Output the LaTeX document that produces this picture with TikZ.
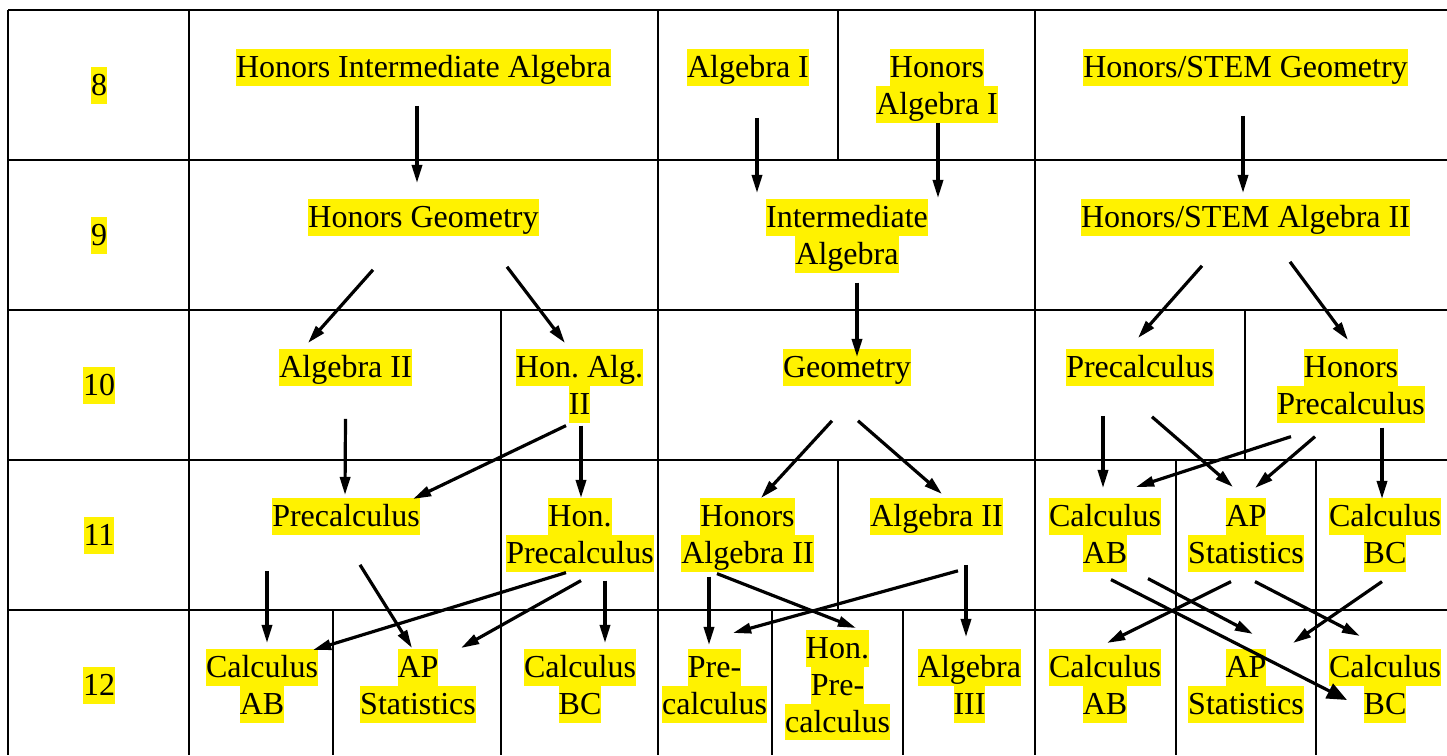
\documentclass[tikz,border=0pt]{standalone}
\usepackage{fontspec}
\setmainfont{Liberation Serif}
\usetikzlibrary{arrows.meta,calc}
\newcommand{\hl}[1]{{\setlength{\fboxsep}{0pt}\colorbox{yellow}{\rule[-3pt]{0pt}{13.8pt}#1}}}
\frenchspacing

\begin{document}
\begin{tikzpicture}[x=0.375pt,y=-0.375pt,
		cell/.style={line width=1.1pt},
		lbl/.style={inner sep=0pt,outer sep=0pt,anchor=north,align=center,font=\fontsize{12}{13.8}\selectfont},
		arr/.style={line width=1.2pt,-{Triangle[length=6.8pt,width=3.8pt]}},
		big/.style={-{Triangle[length=7.5pt,width=6pt]}}]
		\useasboundingbox (0,0) rectangle (1447,755);
		\foreach \y in {10,160,310,460,610} \draw[cell] (8,\y) -- (1447,\y);
		\foreach \x in {8,189,658,1035} \draw[cell] (\x,10) -- (\x,755);
		\draw[cell] (838,10) -- (838,160);
		\draw[cell] (501,310) -- (501,755);
		\draw[cell] (1245,310) -- (1245,460);
		\draw[cell] (838,460) -- (838,610);
		\foreach \x in {1176,1316} \draw[cell] (\x,460) -- (\x,755);
		\foreach \x in {333,772,903} \draw[cell] (\x,610) -- (\x,755);
		\foreach \g [count=\i from 0] in {8,...,12}
			\node[lbl] (g\g) at (99,67+150*\i) {\hl{\g}};
		\node[lbl] (hia) at (423.5,49) {\hl{Honors Intermediate Algebra}};
		\node[lbl] (alg1) at (748,49) {\hl{Algebra I}};
		\node[lbl] (halg1) at (937,49) {\hl{Honors}\\\hl{Algebra I}};
		\node[lbl] (hsgeo) at (1245.5,49) {\hl{Honors/STEM Geometry}};
		\node[lbl] (hgeo) at (423.5,199) {\hl{Honors Geometry}};
		\node[lbl] (ialg) at (847,199) {\hl{Intermediate}\\\hl{Algebra}};
		\node[lbl] (hsalg2) at (1245.5,199) {\hl{Honors/STEM Algebra II}};
		\node[lbl] (alg2a) at (345.5,349) {\hl{Algebra II}};
		\node[lbl] (halg2) at (579.5,349) {\hl{Hon. Alg.}\\\hl{II}};
		\node[lbl] (geo) at (847,349) {\hl{Geometry}};
		\node[lbl] (pcalca) at (1140,349) {\hl{Precalculus}};
		\node[lbl] (hpcalca) at (1351,349) {\hl{Honors}\\\hl{Precalculus}};
		\node[lbl] (pcalcb) at (346,498) {\hl{Precalculus}};
		\node[lbl] (hpcalcb) at (580,498) {\hl{Hon.}\\\hl{Precalculus}};
		\node[lbl] (halg2b) at (747.5,498) {\hl{Honors}\\\hl{Algebra II}};
		\node[lbl] (alg2b) at (936.5,498) {\hl{Algebra II}};
		\node[lbl] (cabb) at (1105,498) {\hl{Calculus}\\\hl{AB}};
		\node[lbl] (apsb) at (1246,498) {\hl{AP}\\\hl{Statistics}};
		\node[lbl] (cbcb) at (1385,498) {\hl{Calculus}\\\hl{BC}};
		\node[lbl] (cabc) at (262,649) {\hl{Calculus}\\\hl{AB}};
		\node[lbl] (apsc) at (418,649) {\hl{AP}\\\hl{Statistics}};
		\node[lbl] (cbcc) at (580,649) {\hl{Calculus}\\\hl{BC}};
		\node[lbl] (prec) at (714.5,649) {\hl{Pre-}\\\hl{calculus}};
		\node[lbl] (hprec) at (837.5,630) {\hl{Hon.}\\\hl{Pre-}\\\hl{calculus}};
		\node[lbl] (alg3) at (969.5,649) {\hl{Algebra}\\\hl{III}};
		\node[lbl] (cabd) at (1105,649) {\hl{Calculus}\\\hl{AB}};
		\node[lbl] (apsd) at (1246,649) {\hl{AP}\\\hl{Statistics}};
		\node[lbl] (cbcd) at (1385,649) {\hl{Calculus}\\\hl{BC}};
		\path[arr]
		($(hia.south)+(-6.5,20)$) edge ($(hgeo.north)+(-6.5,-16)$)
		($(alg1.south)+(9,32)$) edge ($(ialg.north)+(-90,-6)$)
		($(halg1.south)+(1,0)$) edge ($(ialg.north)+(91,-1)$)
		($(hsgeo.south)+(-2.5,30)$) edge ($(hsalg2.north)+(-2.5,-6)$)
		($(hgeo.south)+(-50.5,34)$) edge ($(alg2a.north)+(-37.5,-6)$)
		($(hgeo.south)+(83.5,31)$) edge ($(halg2.north)+(-14.5,-6)$)
		($(ialg.south)+(10,10)$) edge ($(geo.north)+(10,8)$)
		($(hsalg2.south)+(-43.5,30)$) edge ($(pcalca.north)+(-2,-11)$)
		($(hsalg2.south)+(44.5,26)$) edge ($(hpcalca.north)+(-3,-9)$)
		($(alg2a.south)+(0,33)$) edge ($(pcalcb.north)+(-1,-3)$)
		($(halg2.south)+(-13.5,3)$) edge ($(pcalcb.north)+(67,1)$)
		($(halg2.south)+(1.5,3)$) edge ($(hpcalcb.north)+(1,0)$)
		($(geo.south)+(-15,35)$) edge ($(halg2b.north)+(13.5,0)$)
		($(geo.south)+(11,35)$) edge ($(alg2b.north)+(5.5,-4)$)
		($(pcalca.south)+(-37,30)$) edge ($(cabb.north)+(-2,-10)$)
		($(pcalca.south)+(12,31)$) edge ($(apsb.north)+(-13,-11)$)
		($(hpcalca.south)+(-60,14)$) edge ($(cabb.north)+(31,-11)$)
		($(hpcalca.south)+(-36,14)$) edge ($(apsb.north)+(9,-10)$)
		($(hpcalca.south)+(31,5)$) edge ($(cbcb.north)+(-3,1)$)
		($(pcalcb.south)+(-79,36)$) edge ($(cabc.north)+(5,-6)$)
		($(pcalcb.south)+(14,30)$) edge ($(apsc.north)+(-6,-1)$)
		($(hpcalcb.south)+(-14,1)$) edge ($(cabc.north)+(51,1)$)
		($(hpcalcb.south)+(1,9)$) edge ($(apsc.north)+(43,-1)$)
		($(hpcalcb.south)+(25,9)$) edge ($(cbcc.north)+(25,-6)$)
		($(halg2b.south)+(-38.5,5)$) edge ($(prec.north)+(-5.5,-4)$)
		($(halg2b.south)+(-30.5,2)$) edge ($(hprec.north)+(18.5,-2)$)
		($(alg2b.south)+(21.5,36)$) edge ($(prec.north)+(18.5,-16)$)
		($(alg2b.south)+(29.5,30)$) edge ($(alg3.north)+(-3.5,-12)$)
		($(cabb.south)+(6,8)$) edge[big] ($(cbcd.north)+(-38,51)$)
		($(cabb.south)+(43,7)$) edge ($(apsd.north)+(7,-15)$)
		($(apsb.south)+(-15,10)$) edge ($(cabd.north)+(2,-6)$)
		($(apsb.south)+(9,10)$) edge ($(cbcd.north)+(-25,-13)$)
		($(cbcb.south)+(-3,10)$) edge ($(apsd.north)+(47,-6)$);
\end{tikzpicture}
\end{document}
